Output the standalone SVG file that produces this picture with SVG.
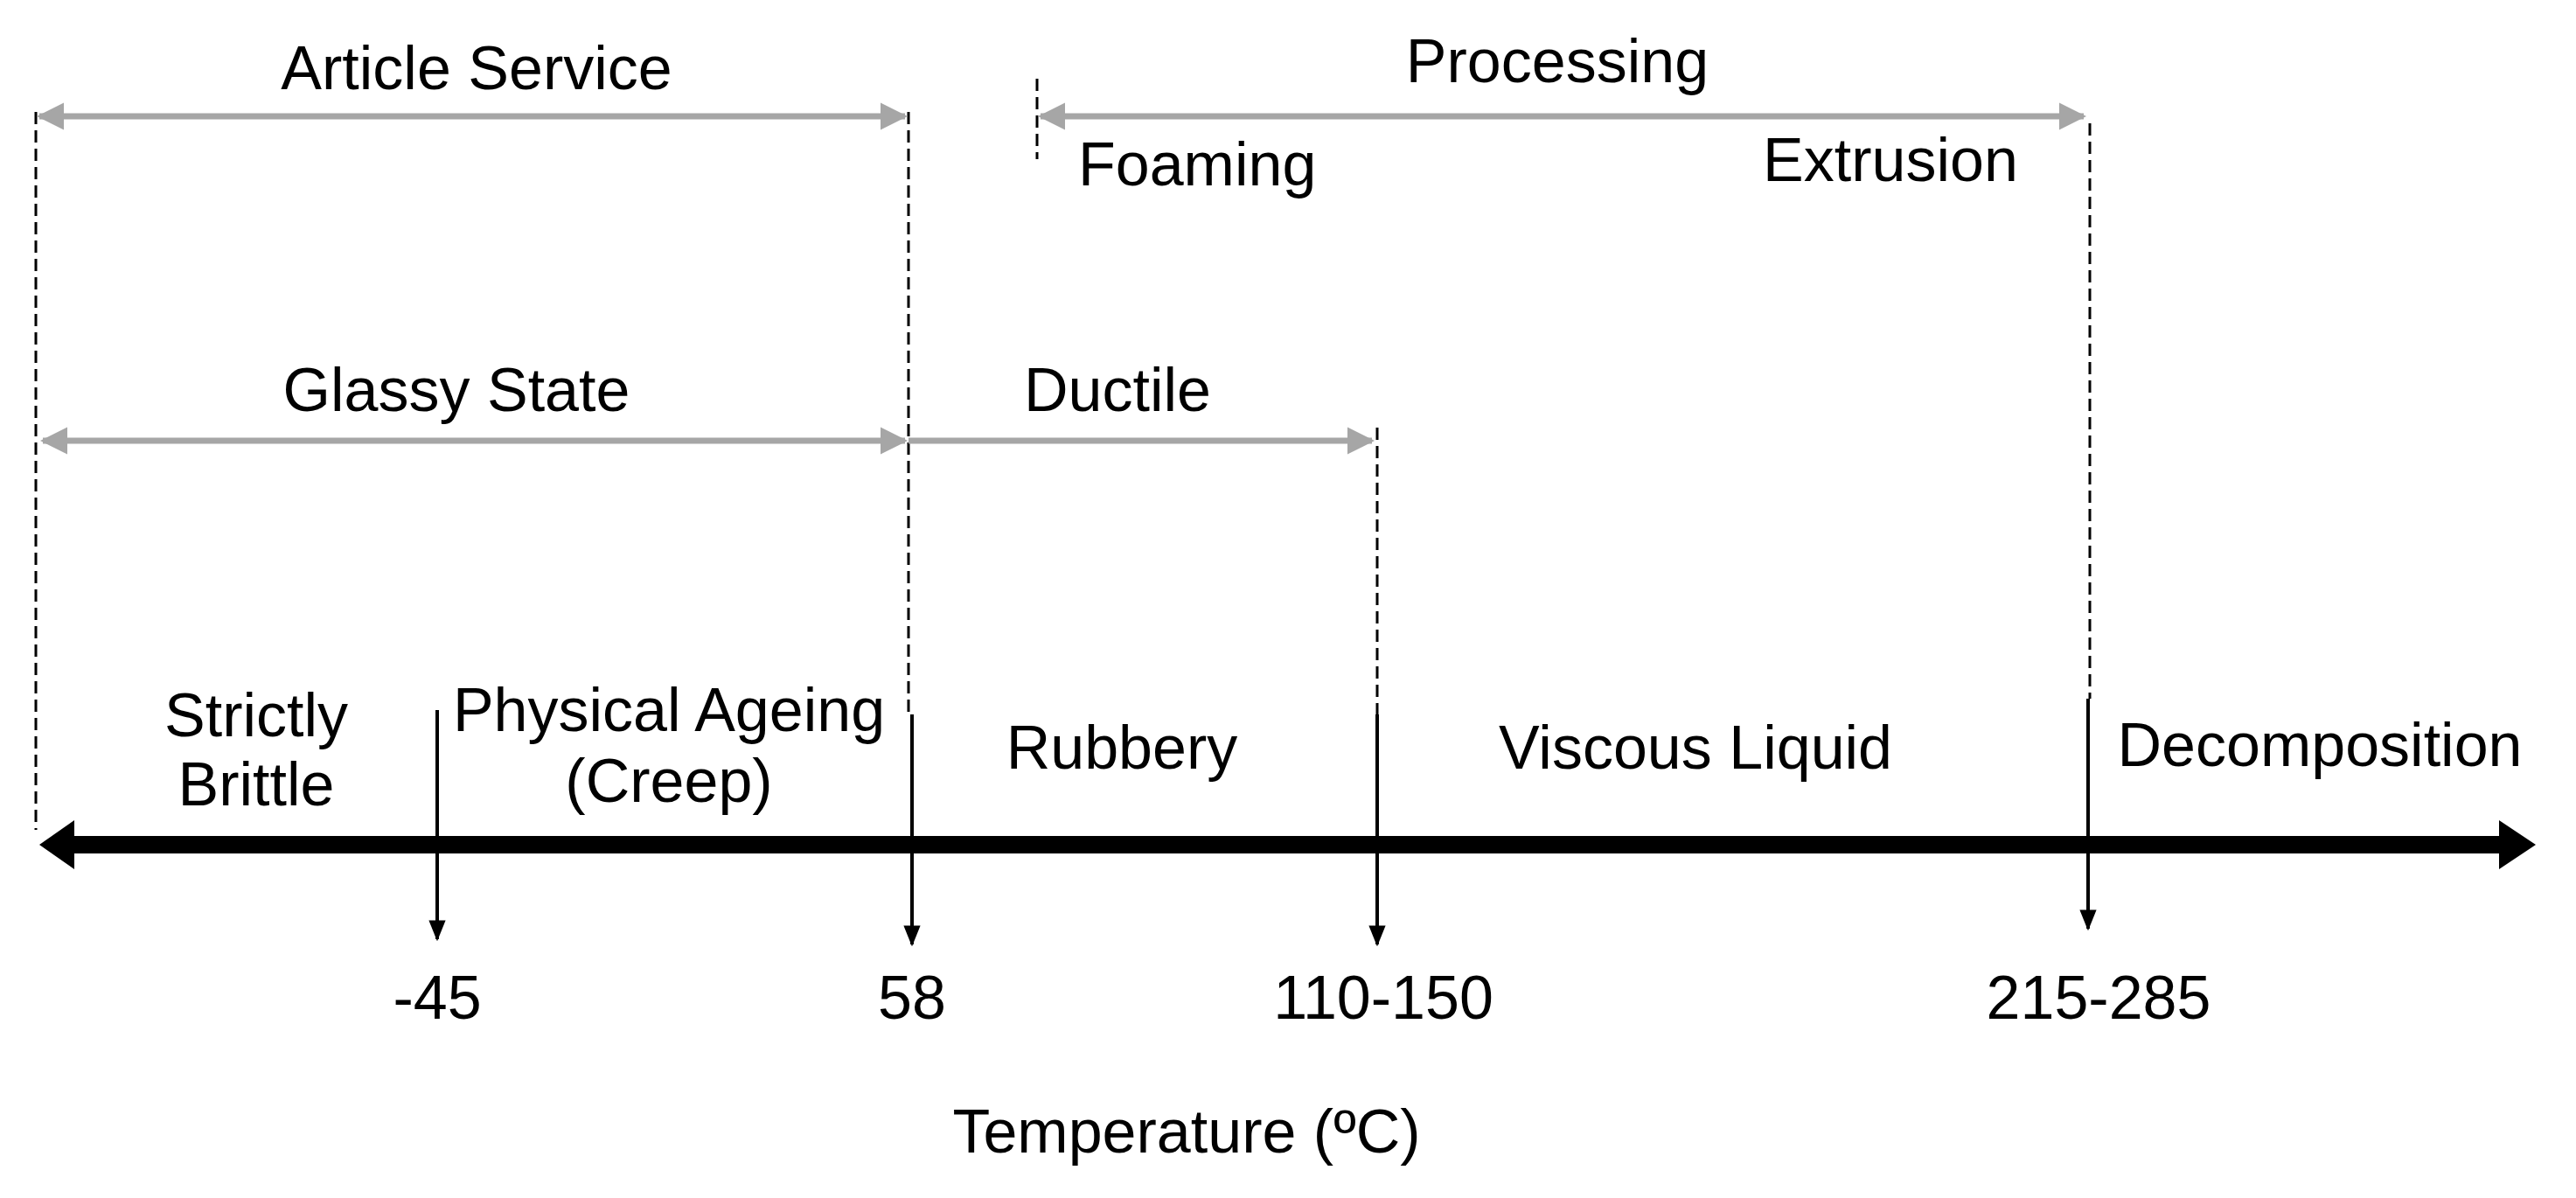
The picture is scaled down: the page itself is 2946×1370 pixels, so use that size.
<svg xmlns="http://www.w3.org/2000/svg" width="2946" height="1370" viewBox="0 0 2946 1370">
<style>
text{font-family:"Liberation Sans",Arial,sans-serif;font-size:70px;fill:#000;text-anchor:middle}
.dash{stroke:#000;stroke-width:3;stroke-dasharray:14 7;fill:none}
.gray{stroke:#a6a6a6;stroke-width:7;fill:none}
.tick{stroke:#000;stroke-width:4;fill:none}
</style>
<defs>
<marker id="ga" viewBox="0 0 10 10" refX="9" refY="5" markerWidth="4.5" markerHeight="4.5" orient="auto-start-reverse" markerUnits="strokeWidth"><path d="M0,0 L10,5 L0,10 Z" fill="#a6a6a6"/></marker>
<marker id="ba" viewBox="0 0 10 10" refX="9" refY="5" markerWidth="6" markerHeight="6" orient="auto" markerUnits="strokeWidth"><path d="M0,1 L10,5 L0,9 Z" fill="#000"/></marker>
</defs>
<g id="connectors">
<line class="dash" x1="41" y1="128" x2="41" y2="949"/>
<line class="dash" x1="1039" y1="128" x2="1039" y2="817"/>
<line class="dash" x1="1186" y1="90" x2="1186" y2="182"/>
<line class="dash" x1="2390" y1="141" x2="2390" y2="799"/>
<line class="dash" x1="1575" y1="489" x2="1575" y2="817"/>
<line class="gray" x1="45" y1="133" x2="1035" y2="133" marker-start="url(#ga)" marker-end="url(#ga)"/>
<line class="gray" x1="1190" y1="133" x2="2383" y2="133" marker-start="url(#ga)" marker-end="url(#ga)"/>
<line class="gray" x1="49" y1="504" x2="1035" y2="504" marker-start="url(#ga)" marker-end="url(#ga)"/>
<line class="gray" x1="1039" y1="504" x2="1569" y2="504" marker-end="url(#ga)"/>
<g id="axis">
<rect x="75" y="956" width="2790" height="20" fill="#000"/>
<polygon points="45,966 85,938 85,994" fill="#000"/>
<polygon points="2900,966 2858,938 2858,994" fill="#000"/>
</g>
<line class="tick" x1="500" y1="812" x2="500" y2="1074" marker-end="url(#ba)"/>
<line class="tick" x1="1043" y1="817" x2="1043" y2="1080" marker-end="url(#ba)"/>
<line class="tick" x1="1575" y1="817" x2="1575" y2="1080" marker-end="url(#ba)"/>
<line class="tick" x1="2388" y1="799" x2="2388" y2="1062" marker-end="url(#ba)"/>
</g>
<g id="article-service"><text x="545" y="102">Article Service</text></g>
<g id="processing"><text x="1781" y="94">Processing</text></g>
<g id="foaming"><text x="1233" y="212" style="text-anchor:start">Foaming</text></g>
<g id="extrusion"><text x="2162" y="207">Extrusion</text></g>
<g id="glassy-state"><text x="522" y="470">Glassy State</text></g>
<g id="ductile"><text x="1278" y="470">Ductile</text></g>
<g id="strictly-brittle"><text x="293" y="842">Strictly</text><text x="293" y="921">Brittle</text></g>
<g id="physical-ageing"><text x="765" y="836">Physical Ageing</text><text x="765" y="917">(Creep)</text></g>
<g id="rubbery"><text x="1283" y="879">Rubbery</text></g>
<g id="viscous-liquid"><text x="1939" y="879">Viscous Liquid</text></g>
<g id="decomposition"><text x="2653" y="876">Decomposition</text></g>
<g id="t-45"><text x="500" y="1165">-45</text></g>
<g id="t58"><text x="1043" y="1165">58</text></g>
<g id="t110"><text x="1582" y="1165">110-150</text></g>
<g id="t215"><text x="2400" y="1165">215-285</text></g>
<g id="temperature"><text x="1357" y="1318">Temperature (ºC)</text></g>
</svg>
